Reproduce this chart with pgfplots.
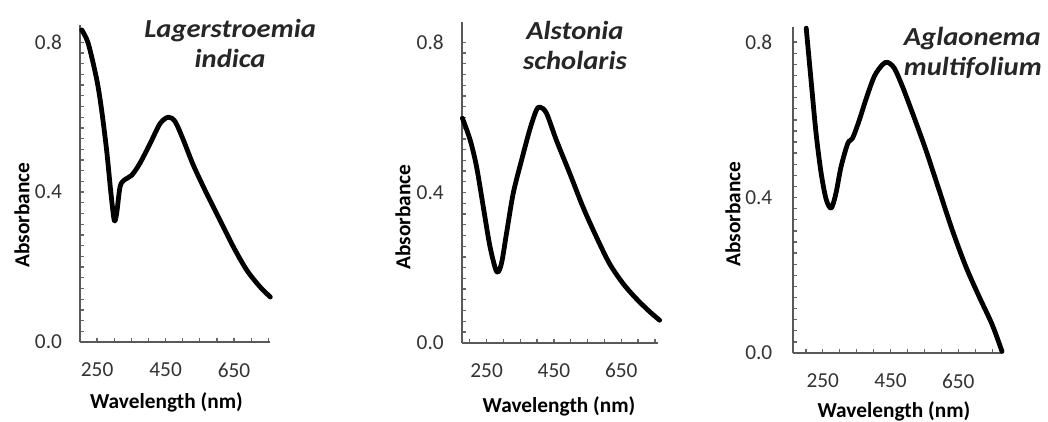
\documentclass[border=0pt]{standalone}
\usepackage{fontspec}
\setmainfont{Carlito}
\newfontfamily\ttlfont[FakeStretch=1.1]{Carlito}
\usepackage{pgfplots}
\pgfplotsset{compat=1.18}

\pgfplotsset{
  spec/.style={
    scale only axis, clip=false,
    axis lines=left, axis line style={-, draw=black!65, line width=1.5pt},
    ymin=0,
    xtick={250,450,650}, xticklabels={250,450,650},
    minor xtick={200,250,...,750},
    ytick={0,0.4,0.8}, yticklabels={0.0,0.4,0.8},
    minor y tick num=13,
    tick align=inside,
    major tick length=3pt, minor tick length=3pt,
    every tick/.style={draw=black!60, line width=1pt},
    minor tick style={draw=black!60, line width=1pt},
    tick label style={font=\fontsize{16}{19}\selectfont, text=black!80},
    xticklabel style={yshift=-12pt},
    label style={font=\bfseries\fontsize{16}{19}\selectfont},
    xlabel={Wavelength (nm)}, ylabel={Absorbance},
  },
  curve/.style={black, line width=3.6pt, smooth, line join=round, line cap=round},
}
\tikzset{ttl/.style={font=\ttlfont\bfseries\itshape\fontsize{19.5}{22.5}\selectfont, text=black!85}}

\begin{document}
\begin{tikzpicture}
\useasboundingbox (0,0) rectangle (786pt,315.75pt);

% Lagerstroemia indica
\begin{axis}[spec, at={(60pt,59.25pt)}, anchor=south west,
  width=142.5pt, height=237.75pt,
  xmin=200, xmax=755, ymax=0.846,
  yticklabel style={xshift=-10pt},
  xlabel style={at={(axis description cs:0.455,-0.192)}, anchor=center},
  ylabel style={at={(axis description cs:-0.305,0.40)}, anchor=center}]
\addplot[curve] coordinates {
  (205,0.833)(224,0.797)(249,0.70)(263,0.62)(278,0.51)(290,0.40)
  (300,0.325)(307,0.343)(317,0.414)(329,0.432)(351,0.445)(375,0.477)
  (405,0.53)(434,0.583)(458,0.60)(478,0.588)(502,0.539)(531,0.472)
  (570,0.396)(609,0.325)(648,0.254)(687,0.192)(726,0.147)(756,0.12)};
\node[ttl, align=center] at (axis description cs:0.79,0.943)
  {Lagerstroemia\\indica};
\end{axis}

% Alstonia scholaris
\begin{axis}[spec, at={(346.3pt,58.7pt)}, anchor=south west,
  width=147.4pt, height=240.75pt,
  xmin=176, xmax=760, ymax=0.855,
  yticklabel style={xshift=-10pt},
  xlabel style={at={(axis description cs:0.495,-0.199)}, anchor=center},
  ylabel style={at={(axis description cs:-0.299,0.392)}, anchor=center}]
\addplot[curve] coordinates {
  (178,0.598)(201,0.54)(220,0.469)(240,0.362)(260,0.256)(280,0.189)
  (294,0.211)(309,0.291)(329,0.398)(354,0.487)(378,0.567)(398,0.62)
  (410,0.627)(428,0.611)(457,0.54)(497,0.451)(536,0.362)(576,0.282)
  (615,0.211)(655,0.158)(694,0.118)(734,0.083)(764,0.06)};
\node[ttl, align=center] at (axis description cs:0.576,0.927)
  {Alstonia\\scholaris};
\end{axis}

% Aglaonema multifolium
\begin{axis}[spec, at={(594.75pt,51pt)}, anchor=south west,
  width=156.75pt, height=244.8pt,
  xmin=162, xmax=779, ymax=0.84,
  yticklabel style={xshift=-12pt},
  xlabel style={at={(axis description cs:0.483,-0.178)}, anchor=center},
  ylabel style={at={(axis description cs:-0.287,0.426)}, anchor=center}]
\addplot[curve] coordinates {
  (201,0.836)(216,0.695)(230,0.566)(245,0.463)(260,0.395)(275,0.373)
  (289,0.412)(304,0.48)(324,0.54)(338,0.553)(358,0.60)(377,0.652)
  (402,0.712)(426,0.742)(441,0.748)(461,0.733)(485,0.686)(515,0.617)
  (554,0.523)(593,0.42)(632,0.317)(672,0.223)(711,0.146)(750,0.073)(779,0.004)};
\node[ttl, align=left, anchor=west] at (axis description cs:0.508,0.919)
  {Aglaonema\\multifolium};
\end{axis}
\end{tikzpicture}
\end{document}
